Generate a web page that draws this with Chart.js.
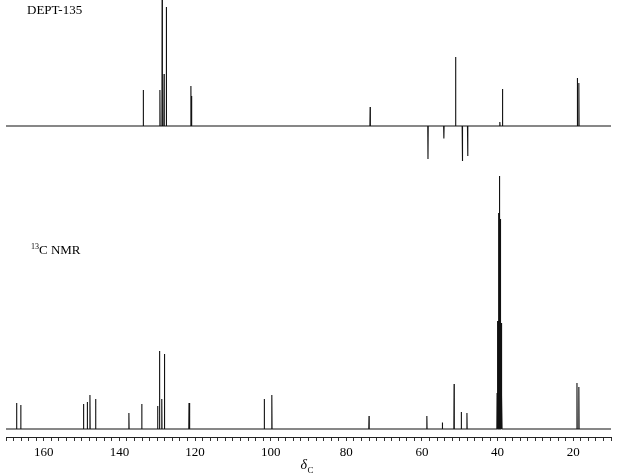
<!DOCTYPE html>
<html>
<head>
<meta charset="utf-8">
<script src="https://cdn.jsdelivr.net/npm/chart.js@4/dist/chart.umd.min.js"></script>
<style>
  html, body { margin: 0; padding: 0; background: #fff; }
  #wrap { width: 618px; height: 476px; position: relative; }
</style>
</head>
<body>
<div id="wrap"><canvas id="nmr"></canvas></div>
<script>
// peak positions (ppm) and heights
const deptShifts  = [133.7, 129.3, 128.7, 128.2, 127.6, 121.1, 120.9, 73.7, 58.4, 54.2, 51.1, 49.3, 47.9, 39.4, 38.7, 18.9, 18.5];
const deptHeights = [36, 36, 160, 52, 119, 40, 30, 19, -33, -12.5, 69, -35, -30, 4, 37, 48, 43];

const c13Shifts  = [167.2, 166.1, 149.5, 148.5, 147.8, 146.3, 137.5, 134.1, 129.9, 129.4, 128.8, 128.1, 121.6, 121.4,
                    101.7, 99.7, 74.0, 58.7, 54.6, 51.5, 49.6, 48.1,
                    40.13, 39.92, 39.71, 39.50, 39.29, 39.08, 38.87, 19.0, 18.5];
const c13Heights = [26, 24, 25, 27, 34, 30, 16, 25, 23, 78, 30, 75, 26, 18,
                    30, 34, 13, 13, 6.5, 45, 17, 16,
                    36, 108, 216, 253, 210, 106, 34, 46, 42];

const xTickLabels = [160, 140, 120, 100, 80, 60, 40, 20];

const DEPT_OFFSET = 303;   // lifts the DEPT trace above the 13C trace
const HALF_WIDTH = 0.06;   // ppm, half base width of a line

function sticks(shifts, heights, offset) {
  const peaks = shifts.map((p, i) => ({ p, h: heights[i] })).sort((a, b) => b.p - a.p);
  const pts = [{ x: 170, y: offset }];
  peaks.forEach(k => {
    pts.push({ x: k.p + HALF_WIDTH, y: offset });
    pts.push({ x: k.p, y: offset + k.h });
    pts.push({ x: k.p - HALF_WIDTH, y: offset });
  });
  pts.push({ x: 10, y: offset });
  return pts;
}

const labelsPlugin = {
  id: 'labels',
  afterDraw(chart) {
    const ctx = chart.ctx;
    const xs = chart.scales.x;
    ctx.save();
    ctx.fillStyle = '#000';
    ctx.textBaseline = 'alphabetic';
    ctx.textAlign = 'left';
    ctx.font = '13px "Liberation Serif"';
    ctx.fillText('DEPT-135', 27, 14);
    ctx.font = '8px "Liberation Serif"';
    ctx.fillText('13', 31, 249);
    ctx.font = '13px "Liberation Serif"';
    ctx.fillText('C NMR', 39, 254);
    // axis title: delta with subscript C
    const cx = (chart.chartArea.left + chart.chartArea.right) / 2;
    ctx.font = 'italic 14px "Liberation Serif"';
    ctx.fillText('δ', cx - 8, xs.top + 32);
    ctx.font = '9px "Liberation Serif"';
    ctx.fillText('C', cx - 1, xs.top + 36);
    ctx.restore();
  }
};

const lineStyle = { showLine: true, pointRadius: 0, borderColor: '#111', borderWidth: 1.1, tension: 0 };

new Chart(document.getElementById('nmr'), {
  type: 'scatter',
  data: {
    datasets: [
      { ...lineStyle, data: sticks(deptShifts, deptHeights, DEPT_OFFSET) },
      { ...lineStyle, data: sticks(c13Shifts, c13Heights, 0) }
    ]
  },
  options: {
    responsive: true,
    maintainAspectRatio: false,
    animation: false,
    events: [],
    layout: { padding: { left: 6, right: 7, top: 0, bottom: 0 } },
    plugins: { legend: { display: false }, tooltip: { enabled: false } },
    scales: {
      x: {
        type: 'linear',
        reverse: true,
        min: 10,
        max: 170,
        afterFit(scale) { scale.height = 39; },
        border: { display: true, color: '#222', width: 1 },
        grid: { drawOnChartArea: false, drawTicks: true, tickLength: 4, color: '#333' },
        ticks: {
          stepSize: 2,
          autoSkip: false,
          maxRotation: 0,
          padding: 4,
          color: '#000',
          font: { family: '"Liberation Serif"', size: 13 },
          callback: v => xTickLabels.includes(v) ? String(v) : ''
        }
      },
      y: {
        display: false,
        min: -8,
        max: 429
      }
    }
  },
  plugins: [labelsPlugin]
});
</script>
</body>
</html>
